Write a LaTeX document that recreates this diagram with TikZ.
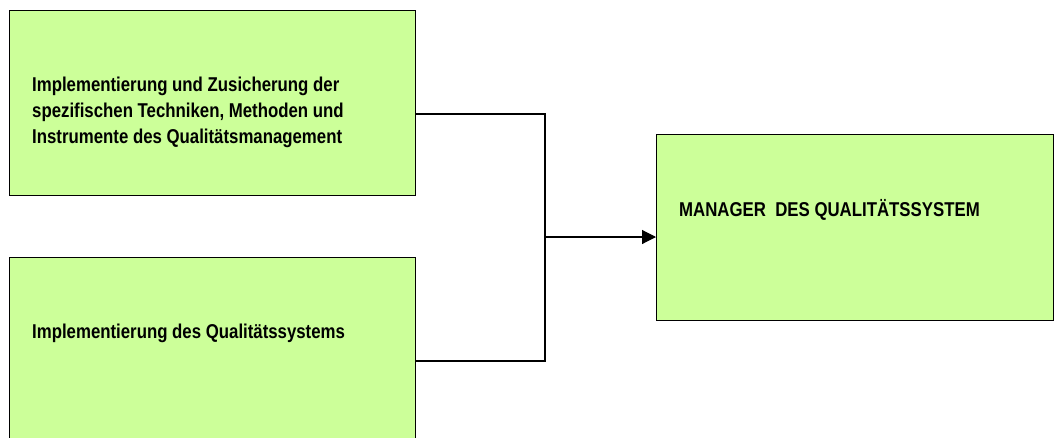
\documentclass[tikz,border=0pt]{standalone}
\usepackage{fontspec}
\setmainfont{Liberation Sans}
\newfontfamily\narrowfont[FakeStretch=0.84]{Liberation Sans Bold}
\usetikzlibrary{arrows.meta,calc}
\definecolor{boxgreen}{HTML}{CCFF99}
\tikzset{
  box/.style={draw=black, line width=1.2pt, fill=boxgreen, anchor=north west, inner sep=0pt},
  lbl/.style={anchor=west, align=left, inner sep=0pt, font=\narrowfont\fontsize{20}{26}\selectfont},
  conn/.style={draw=black, line width=1.1pt},
}
\begin{document}
\begin{tikzpicture}[x=1pt,y=-1pt]
\useasboundingbox (0,0) rectangle (1054,437);
\node[box, minimum width=406, minimum height=185] (b1) at (9,10) {};
\node[box, minimum width=406, minimum height=200] (b2) at (9,257) {};
\node[box, minimum width=397, minimum height=186] (b3) at (656,134) {};
\node[lbl] (t1) at (32,112) {Implementierung und Zusicherung der\\spezifischen Techniken, Methoden und\\Instrumente des Qualitätsmanagement};
\node[lbl] (t2) at (32,333) {Implementierung des Qualitätssystems};
\node[lbl] (t3) at (679,210) {MANAGER\ \ DES QUALITÄTSSYSTEM};
\coordinate (j1) at (545,114);
\coordinate (j2) at (545,361);
\coordinate (jm) at (545,237);
\draw[conn] (b1.east |- j1) -- (j1) -- (j2) -- (b2.east |- j2);
\draw[conn, -{Triangle[length=14pt,width=14pt]}] (jm) -- (b3.west |- jm);
\end{tikzpicture}
\end{document}
